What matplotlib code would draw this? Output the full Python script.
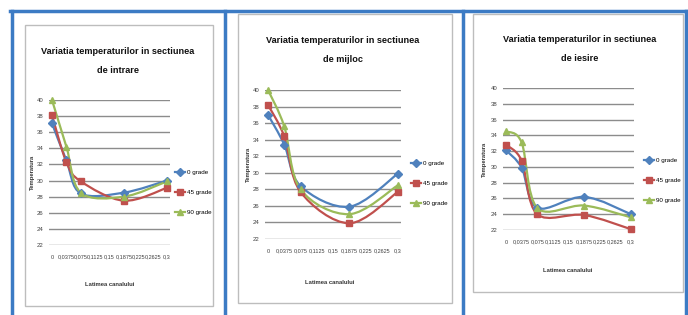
import matplotlib
matplotlib.use("Agg")
import matplotlib.pyplot as plt
from matplotlib.lines import Line2D
from matplotlib.patches import Rectangle, PathPatch
from matplotlib.path import Path

plt.rcParams['font.family'] = ['Liberation Sans', 'DejaVu Sans']

# date
categories = ["0", "0,0375", "0,075", "0,1125", "0,15", "0,1875", "0,225", "0,2625", "0,3"]
point_idx = [0, 1, 2, 5, 8]          # categoriile care au valori
series_names = ["0 grade", "45 grade", "90 grade"]
series_colors = ["#4F81BD", "#C0504D", "#9BBB59"]
series_markers = ["D", "s", "^"]

titles = ["Variatia temperaturilor in sectiunea\nde intrare",
          "Variatia temperaturilor in sectiunea\nde mijloc",
          "Variatia temperaturilor in sectiunea\nde iesire"]

intrare_0 = [37.1, 32.5, 28.4, 28.5, 30.0]
intrare_45 = [38.1, 32.3, 29.9, 27.5, 29.1]
intrare_90 = [40.0, 34.2, 28.5, 28.0, 29.9]

mijloc_0 = [37.0, 33.4, 28.4, 25.9, 29.9]
mijloc_45 = [38.2, 34.4, 27.7, 23.9, 27.7]
mijloc_90 = [40.0, 35.6, 28.0, 25.0, 28.5]

iesire_0 = [32.1, 29.9, 24.8, 26.2, 24.0]
iesire_45 = [32.8, 30.8, 24.0, 23.9, 22.1]
iesire_90 = [34.5, 33.1, 24.8, 25.1, 23.6]

yticks = list(range(22, 41, 2))

W, H = 688, 315
fig = plt.figure(figsize=(W / 100, H / 100), dpi=100)
fig.patch.set_facecolor("white")


def fx(x):
    return x / W


def fy(y):
    return 1 - y / H


# Functie pentru linie netezita (stil Excel)
def smooth_path(xs, ys):
    pts = list(zip(xs, ys))
    verts = [pts[0]]
    codes = [Path.MOVETO]
    for i in range(len(pts) - 1):
        p0 = pts[i - 1] if i > 0 else pts[i]
        p1 = pts[i]
        p2 = pts[i + 1]
        p3 = pts[i + 2] if i + 2 < len(pts) else pts[i + 1]
        c1 = (p1[0] + (p2[0] - p0[0]) / 6, p1[1] + (p2[1] - p0[1]) / 6)
        c2 = (p2[0] - (p3[0] - p1[0]) / 6, p2[1] - (p3[1] - p1[1]) / 6)
        verts += [c1, c2, p2]
        codes += [Path.CURVE4] * 3
    return Path(verts, codes)


# chenare
def box(x0, y0, x1, y1):
    fig.add_artist(Rectangle((fx(x0), fy(y1)), fx(x1 - x0), fy(y0) - fy(y1),
                             transform=fig.transFigure, fill=False,
                             edgecolor="#BDBDBD", linewidth=1.0))


box(25, 25, 213, 306)
box(238, 14, 452, 303)
box(473, 14, 683, 292)

blue = "#3C7BC4"
fig.add_artist(Line2D([fx(10), fx(688)], [fy(11), fy(11)], transform=fig.transFigure,
                      color=blue, linewidth=2.5))
for xv in [12, 225, 463, 686]:
    fig.add_artist(Line2D([fx(xv), fx(xv)], [fy(11), fy(315)], transform=fig.transFigure,
                          color=blue, linewidth=2.5))

# pozitii (pixeli) pentru fiecare grafic
panels = [
    dict(x0=52, x8=167, y40=100, y22=245, tx=118, ty=61, lx=175, ly=177, xl=110, xly=285,
         yl=32, data=[intrare_0, intrare_45, intrare_90]),
    dict(x0=268, x8=398, y40=90, y22=239, tx=343, ty=50, lx=411, ly=168, xl=330, xly=282,
         yl=248, data=[mijloc_0, mijloc_45, mijloc_90]),
    dict(x0=506, x8=631, y40=88, y22=230, tx=580, ty=49, lx=644, ly=165, xl=568, xly=270,
         yl=484, data=[iesire_0, iesire_45, iesire_90]),
]

for k, p in enumerate(panels):
    step = (p["x8"] - p["x0"]) / 8
    left = p["x0"] - 0.2 * step
    right = p["x8"] + 0.2 * step
    ax = fig.add_axes([fx(left), fy(p["y22"]), fx(right - left), fy(p["y40"]) - fy(p["y22"])])
    ax.set_xlim(-0.2, 8.2)
    ax.set_ylim(22, 40)
    ax.set_facecolor("none")
    for s in ax.spines.values():
        s.set_visible(False)
    for yv in yticks:
        ax.axhline(yv, color="#8C8C8C", linewidth=1.0, zorder=0)
    ax.set_yticks(yticks)
    ax.set_yticklabels([str(v) for v in yticks], fontsize=4.3, color="#404040")
    ax.set_xticks(range(len(categories)))
    ax.set_xticklabels(categories, fontsize=4.0, color="#404040")
    ax.tick_params(axis="y", length=0, pad=4)
    ax.tick_params(axis="x", length=0, pad=7)

    handles = []
    for vals, c, m, name in zip(p["data"], series_colors, series_markers, series_names):
        ax.add_patch(PathPatch(smooth_path(point_idx, vals), facecolor="none",
                               edgecolor=c, linewidth=1.6, zorder=2, clip_on=False))
        ax.plot(point_idx, vals, color=c, marker=m, markersize=3.8,
                linewidth=0, zorder=3, clip_on=False)
        handles.append(Line2D([], [], color=c, marker=m, markersize=3.8, linewidth=1.6))

    fig.text(fx(p["tx"]), fy(p["ty"]), titles[k], ha="center", va="center",
             fontsize=6.6, fontweight="bold", linespacing=2.4, color="#111111")
    fig.text(fx(p["yl"]), fy((p["y40"] + p["y22"]) / 2), "Temperatura", rotation=90,
             ha="center", va="center", fontsize=4.2, fontweight="bold", color="#333333")
    fig.text(fx(p["xl"]), fy(p["xly"]), "Latimea canalului", ha="center", va="center",
             fontsize=4.2, fontweight="bold", color="#333333")
    fig.legend(handles, series_names, loc="upper left",
               bbox_to_anchor=(fx(p["lx"]), fy(p["ly"] - 7)), frameon=False,
               fontsize=4.5, handlelength=1.6, handletextpad=0.3, labelspacing=2.3,
               borderpad=0, borderaxespad=0)

fig.savefig("out.png", dpi=100)
